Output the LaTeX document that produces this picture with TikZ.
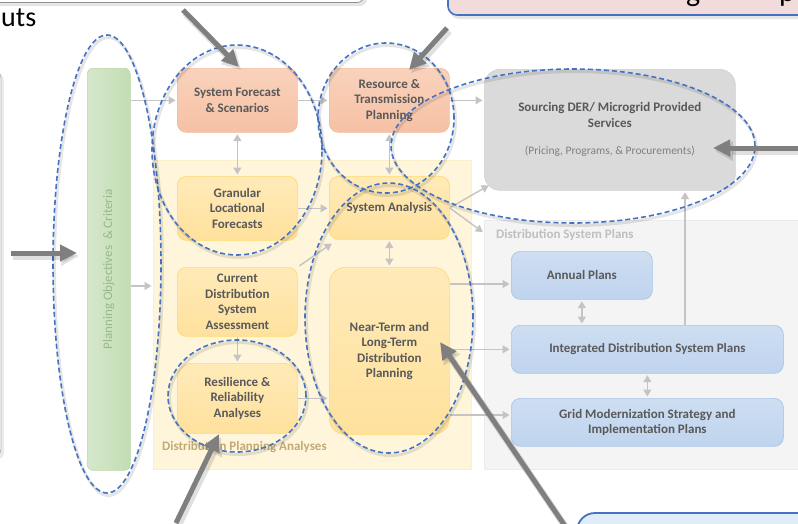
\documentclass[tikz,border=0pt]{standalone}
\usepackage{fontspec}
\setmainfont{Carlito}
\usetikzlibrary{arrows.meta,calc,shapes.geometric,shadows}

% palette
\definecolor{txt}{HTML}{595959}
\definecolor{salmonA}{HTML}{F9D2BC}
\definecolor{salmonB}{HTML}{F6C1A4}
\definecolor{salmonD}{HTML}{F5BC9A}
\definecolor{yelA}{HTML}{FFEAB8}
\definecolor{yelB}{HTML}{FFE19D}
\definecolor{yelD}{HTML}{FFDA70}
\definecolor{blueA}{HTML}{CEDEF2}
\definecolor{blueB}{HTML}{BFD4EE}
\definecolor{blueD}{HTML}{A9C5E8}
\definecolor{grayBox}{HTML}{DADADA}
\definecolor{grayD}{HTML}{D2D2D2}
\definecolor{greenA}{HTML}{D6E8CC}
\definecolor{greenB}{HTML}{C2DCB4}
\definecolor{greenD}{HTML}{B9D7AA}
\definecolor{dpaFill}{HTML}{FFF5DB}
\definecolor{dpaD}{HTML}{FCEFCB}
\definecolor{dspFill}{HTML}{F4F4F4}
\definecolor{dspD}{HTML}{EBEBEB}
\definecolor{connC}{HTML}{C4C4C4}
\definecolor{ptr}{HTML}{7F7F7F}
\definecolor{ringC}{HTML}{4472C4}
\definecolor{dpaLbl}{HTML}{C2AA76}
\definecolor{dspLbl}{HTML}{BFBFBF}
\definecolor{objTxt}{HTML}{98B989}
\definecolor{pinkFill}{HTML}{F2DCDB}
\definecolor{callBlue}{HTML}{4472C4}
\definecolor{paleBlue}{HTML}{E0ECF7}

\newcommand{\boxfont}{\fontsize{13}{15.5}\selectfont\bfseries}

\tikzset{
  box/.style={rectangle, rounded corners=9pt, anchor=north west, align=center,
    inner sep=2pt, font=\boxfont, text=txt, line width=0.7pt},
  salmonbox/.style={box, top color=salmonA, bottom color=salmonB, draw=salmonD},
  yellowbox/.style={box, top color=yelA, bottom color=yelB, draw=yelD},
  bluebox/.style={box, top color=blueA, bottom color=blueB, draw=blueD},
  graybox/.style={box, rounded corners=16pt, fill=grayBox, draw=grayD},
  region/.style={rectangle, anchor=north west, inner sep=0pt, line width=0.6pt},
  conn/.style={draw=connC, line width=1.4pt, shorten >=1.5pt,
    -{Triangle[length=7pt,width=8pt]}},
  dblconn/.style={conn, shorten <=1.5pt,
    {Triangle[length=7pt,width=8pt]}-{Triangle[length=7pt,width=8pt]}},
  pointer/.style={draw=ptr, line width=5pt, -{Triangle[length=17pt,width=16pt]}},
  pointershade/.style={draw=black, opacity=0.12, line width=7pt,
    -{Triangle[length=18pt,width=19pt]}},
  ring/.style={ellipse, inner sep=0pt, draw=ringC, line width=1.6pt,
    dash pattern=on 5pt off 3pt},
  ringshade/.style={ellipse, inner sep=0pt, draw=black, opacity=0.10,
    line width=3pt},
}

\begin{document}
\begin{tikzpicture}[x=1pt,y=-1pt]
\useasboundingbox (0,0) rectangle (798,523);
\clip (0,0) rectangle (798,523);
\fill[white] (0,0) rectangle (798,523);

% ---- callouts around the diagram ----
\fill[black, opacity=0.10, rounded corners=7pt] (-30,-60) rectangle (367,6);
\draw[fill=white, draw=ptr!85, line width=0.8pt, rounded corners=7pt]
  (-30,-60) rectangle (364,2.5);
\node[anchor=base west, inner sep=0pt, font=\fontsize{28}{30}\selectfont] (inp) at (1,26) {uts};

\fill[black, opacity=0.10, rounded corners=9pt] (450,-60) rectangle (820,19);
\draw[fill=pinkFill, draw=callBlue, line width=1.6pt, rounded corners=9pt]
  (448,-60) rectangle (820,15);
\node[anchor=base west, inner sep=0pt, font=\fontsize{30}{32}\selectfont] (gq) at (686,1) {g};
\node[anchor=base west, inner sep=0pt, font=\fontsize{30}{32}\selectfont] (pq) at (779,1) {p};

\fill[black, opacity=0.08, rounded corners=8pt] (-60,73) rectangle (4,460);
\draw[fill=white, draw=black!28, line width=0.8pt, rounded corners=8pt]
  (-60,70) rectangle (1,457);

\draw[fill=paleBlue, draw=callBlue, line width=1.8pt, rounded corners=18pt]
  (577,513) rectangle (840,600);

% ---- background groups ----
\node[region, fill=dpaFill, draw=dpaD, minimum width=318pt, minimum height=309pt] (dpa) at (153,160) {};
\node[anchor=west, inner sep=0pt, font=\boxfont, text=dpaLbl] (dpaL) at (162,447) {Distribution Planning Analyses};

\node[region, fill=dspFill, draw=dspD, minimum width=340pt, minimum height=249pt] (dsp) at (484,220) {};
\node[anchor=west, inner sep=0pt, font=\boxfont, text=dspLbl] (dspL) at (496,235) {Distribution System Plans};

% ---- objectives column ----
\node[region, rounded corners=6pt, left color=greenA, right color=greenB, draw=greenD,
  minimum width=43pt, minimum height=402pt] (obj) at (87,68) {};
\node[rotate=90, font=\fontsize{13}{15}\selectfont, text=objTxt] (objT) at (obj.center) {Planning Objectives\ \ \& Criteria};

% ---- process boxes ----
\node[salmonbox, minimum width=120pt, minimum height=64pt] (sf) at (177,68) {System Forecast\\\& Scenarios};
\node[salmonbox, minimum width=120pt, minimum height=64pt] (rtp) at (329,68) {Resource \&\\Transmission\\Planning};
\node[graybox, minimum width=251pt, minimum height=121pt] (src) at (484,69)
  {Sourcing DER/ Microgrid Provided\\Services\\[12pt]{\mdseries\fontsize{11.5}{13}\selectfont\color{ptr}(Pricing, Programs, \& Procurements)}};

\node[yellowbox, minimum width=120pt, minimum height=64pt] (glf) at (177,176) {Granular\\Locational\\Forecasts};
\node[yellowbox, minimum width=120pt, minimum height=63pt] (sa) at (329,176) {System Analysis};
\node[yellowbox, minimum width=120pt, minimum height=69pt] (cdsa) at (177,267) {Current\\Distribution\\System\\Assessment};
\node[yellowbox, rounded corners=16pt, minimum width=120pt, minimum height=167pt] (ntp) at (329,267) {Near-Term and\\Long-Term\\Distribution\\Planning};
\node[yellowbox, rounded corners=14pt, minimum width=120pt, minimum height=70pt] (rra) at (177,363) {Resilience \&\\Reliability\\Analyses};

\node[bluebox, minimum width=141pt, minimum height=48pt] (ap) at (511,251) {Annual Plans};
\node[bluebox, minimum width=272pt, minimum height=48pt] (idsp) at (511,325) {Integrated Distribution System Plans};
\node[bluebox, minimum width=272pt, minimum height=48pt] (gm) at (511,398) {Grid Modernization Strategy and\\Implementation Plans};

% ---- flow connectors ----
\coordinate (dpaIn) at (153,286);
\coordinate (dspIn) at (484,233);
\coordinate (apIn) at (511,284);
\coordinate (gmIn) at (511,415);
\coordinate (upX) at (685,0);

\draw[conn] (obj.east |- sf.west) -- (sf.west);
\draw[conn] (obj.east |- dpaIn) -- (dpaIn);
\draw[conn] (sf.east) -- (rtp.west);
\draw[conn] (rtp.east) -- (src.west |- rtp.east);
\draw[dblconn] (sf.south) -- (glf.north);
\draw[dblconn] (rtp.south) -- (sa.north);
\draw[conn] (glf.east) -- (sa.west |- glf.east);
\draw[conn, shorten <=2pt] (cdsa.north east) -- ($(sa.south west)+(4,3)$);
\draw[dblconn] (sa.south) -- (ntp.north);
\draw[conn] (sa.east) -- ($(src.south west)+(6,-6)$);
\draw[conn] (sa.east) -- (dspIn);
\draw[conn] (cdsa.south) -- (rra.north);
\draw[conn] (rra.east) -- (ntp.west |- rra.east);
\draw[conn] (ntp.east |- apIn) -- (apIn);
\draw[conn] (ntp.east |- idsp.west) -- (idsp.west);
\draw[conn] (ntp.east |- gmIn) -- (gmIn);
\draw[dblconn] (ap.south) -- (ap.south |- idsp.north);
\draw[dblconn] (idsp.south) -- (gm.north);
\draw[conn] (idsp.north -| upX) -- (src.south -| upX);

% ---- dashed highlight rings ----
\foreach \cx/\cy/\w/\h/\r/\nm in {107/264/108/458/0/e1, 237/150/170/210/0/e2, 386/118/136/150/0/e3,
    573/146/364/154/0/e4, 389/318/168/270/0/e5, 237/396/138/112/0/e6}{
  \node[ringshade, minimum width=\w pt, minimum height=\h pt, rotate=\r] at (\cx+1.5,\cy+2.5) {};
  \node[ring, minimum width=\w pt, minimum height=\h pt, rotate=\r] (\nm) at (\cx,\cy) {};
}

% ---- pointers from the callouts ----
\coordinate (p1s) at (183,10);  \coordinate (p1e) at (239,67);
\coordinate (p2s) at (447,28);  \coordinate (p2e) at (409,70);
\coordinate (p3s) at (810,148); \coordinate (p3e) at (713,148);
\coordinate (p4s) at (11,253);  \coordinate (p4e) at (77,253);
\coordinate (p5s) at (176,523); \coordinate (p5e) at (219,434);
\coordinate (p6s) at (565,526); \coordinate (p6e) at (440,342);
\foreach \s/\e in {p1s/p1e, p2s/p2e, p3s/p3e, p4s/p4e, p5s/p5e, p6s/p6e}{
  \draw[pointershade] ($(\s)+(2,3)$) -- ($(\e)+(2,3)$);
}
\foreach \s/\e in {p1s/p1e, p2s/p2e, p3s/p3e, p4s/p4e, p5s/p5e, p6s/p6e}{
  \draw[pointer] (\s) -- (\e);
}
\end{tikzpicture}
\end{document}
